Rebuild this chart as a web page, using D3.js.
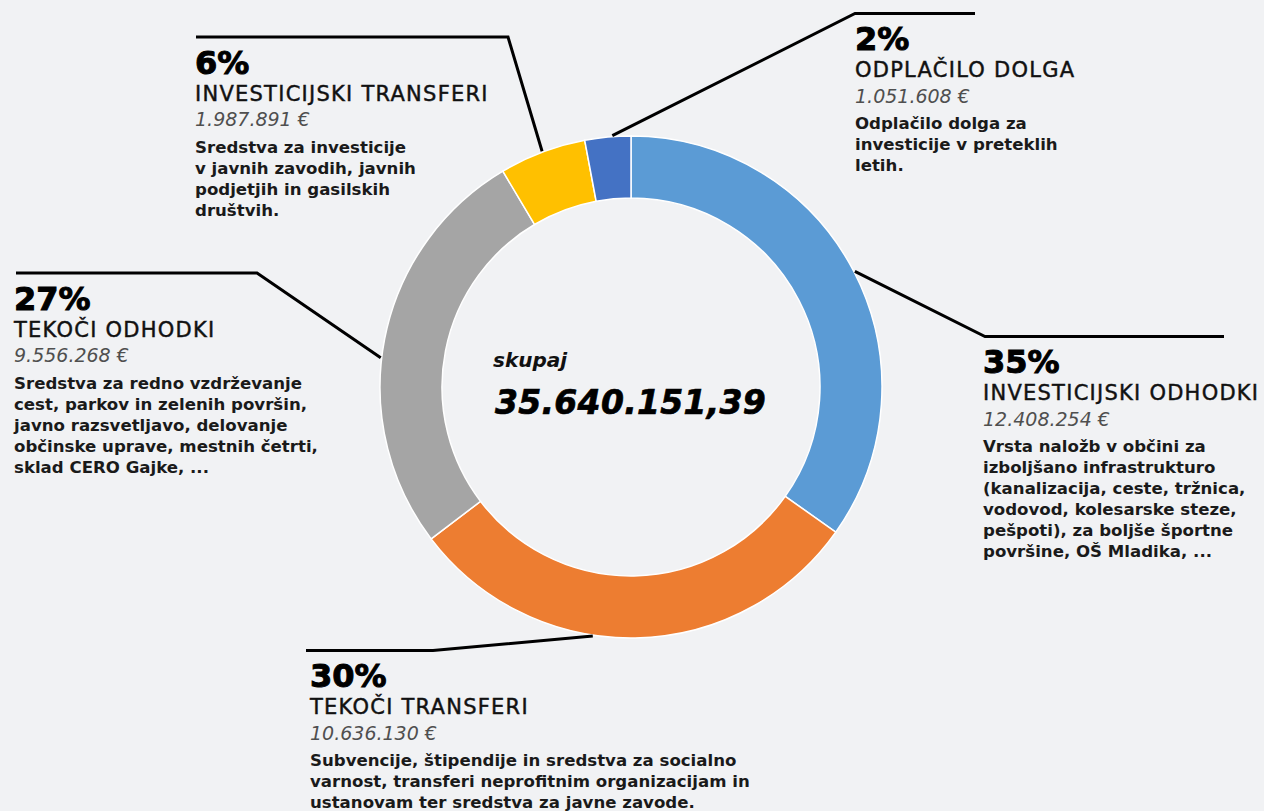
<!DOCTYPE html>
<html>
<head>
<meta charset="utf-8">
<script src="https://cdn.jsdelivr.net/npm/d3@7"></script>
<style>
  html, body { margin: 0; padding: 0; background: #f1f2f4; }
  svg { display: block; }
  text { font-family: "DejaVu Sans", sans-serif; }
</style>
</head>
<body>
<svg id="chart" width="1264" height="811"></svg>
<script>
// ---- data ----
const categories = ["INVESTICIJSKI ODHODKI", "TEKOČI TRANSFERI", "TEKOČI ODHODKI", "INVESTICIJSKI TRANSFERI", "ODPLAČILO DOLGA"];
const values = [12408254, 10636130, 9556268, 1987891, 1051608];
const percentLabels = ["35%", "30%", "27%", "6%", "2%"];
const colors = ["#5b9bd5", "#ed7d31", "#a5a5a5", "#ffc000", "#4472c4"];
const descriptions = [
  ["Vrsta naložb v občini za", "izboljšano infrastrukturo", "(kanalizacija, ceste, tržnica,", "vodovod, kolesarske steze,", "pešpoti), za boljše športne", "površine, OŠ Mladika, ..."],
  ["Subvencije, štipendije in sredstva za socialno", "varnost, transferi neprofitnim organizacijam in", "ustanovam ter sredstva za javne zavode."],
  ["Sredstva za redno vzdrževanje", "cest, parkov in zelenih površin,", "javno razsvetljavo, delovanje", "občinske uprave, mestnih četrti,", "sklad CERO Gajke, ..."],
  ["Sredstva za investicije", "v javnih zavodih, javnih", "podjetjih in gasilskih", "društvih."],
  ["Odplačilo dolga za", "investicije v preteklih", "letih."]
];
const totalLabel = "skupaj";
const totalValue = 35640151.39;

// ---- layout (positions only) ----
const cx = 631, cy = 387, rOuter = 251, rInner = 189;
// label anchor x, percent baseline y, leader horizontal [x0,x1], knee side, attach fraction within slice
const labelLayout = [
  {x: 983, y: 373, hx: [985, 1224], knee: 0, frac: 0.5},
  {x: 310, y: 687, hx: [306, 433], knee: 1, frac: 0.59},
  {x: 14,  y: 309.5, hx: [16, 257], knee: 1, frac: 0.455},
  {x: 195, y: 73.5, hx: [196, 508], knee: 1, frac: 0.5},
  {x: 855, y: 50, hx: [855, 975], knee: 0, frac: 0.6}
];

const loc = d3.formatLocale({decimal: ",", thousands: ".", grouping: [3], currency: ["", ""]});
const fmtInt = loc.format(",d");
const fmtTotal = loc.format(",.2f");

const svg = d3.select("#chart");
svg.append("rect").attr("width", 1264).attr("height", 811).attr("fill", "#f1f2f4");

const pie = d3.pie().sort(null).value(d => d)(values);
const arc = d3.arc().innerRadius(rInner).outerRadius(rOuter);

const g = svg.append("g").attr("transform", `translate(${cx},${cy})`);
g.selectAll("path").data(pie).join("path")
  .attr("d", arc)
  .attr("fill", (d, i) => colors[i])
  .attr("stroke", "#ffffff")
  .attr("stroke-width", 1.5);

// leader lines
pie.forEach((d, i) => {
  const L = labelLayout[i];
  const a = d.startAngle + (d.endAngle - d.startAngle) * L.frac;
  const px = cx + (rOuter + 1) * Math.sin(a);
  const py = cy - (rOuter + 1) * Math.cos(a);
  const ly = L.y - 36.5;
  const kx = L.hx[L.knee];
  const ox = L.hx[1 - L.knee];
  svg.append("path")
    .attr("d", d3.line()([[px, py], [kx, ly], [ox, ly]]))
    .attr("fill", "none")
    .attr("stroke", "#000")
    .attr("stroke-width", 3);
});

// labels
pie.forEach((d, i) => {
  const L = labelLayout[i];
  const t = svg.append("g");
  t.append("text").attr("x", L.x).attr("y", L.y)
    .attr("font-size", 32).attr("font-weight", 700)
    .attr("fill", "#000").attr("stroke", "#000").attr("stroke-width", 1)
    .text(percentLabels[i]);
  t.append("text").attr("x", L.x).attr("y", L.y + 27)
    .attr("font-size", 21).attr("font-weight", 400).attr("letter-spacing", 1.25)
    .attr("fill", "#111").attr("stroke", "#111").attr("stroke-width", 0.45)
    .text(categories[i]);
  t.append("text").attr("x", L.x).attr("y", L.y + 52.5)
    .attr("font-size", 19).attr("font-style", "italic").attr("font-weight", 300)
    .attr("fill", "#4f4f4f")
    .text(fmtInt(d.data) + " €");
  descriptions[i].forEach((line, j) => {
    t.append("text").attr("x", L.x).attr("y", L.y + 79 + j * 21)
      .attr("font-size", 16.6).attr("font-weight", 700)
      .attr("fill", "#1a1a1a")
      .text(line);
  });
});

// center
svg.append("text").attr("x", 493).attr("y", 367)
  .attr("font-size", 20).attr("font-weight", 700).attr("font-style", "italic")
  .attr("fill", "#111").text(totalLabel);
svg.append("text").attr("x", 495).attr("y", 413.5)
  .attr("font-size", 33).attr("font-weight", 700).attr("font-style", "italic")
  .attr("letter-spacing", 0.3)
  .attr("fill", "#000").attr("stroke", "#000").attr("stroke-width", 0.7)
  .text(fmtTotal(totalValue));
</script>
</body>
</html>
